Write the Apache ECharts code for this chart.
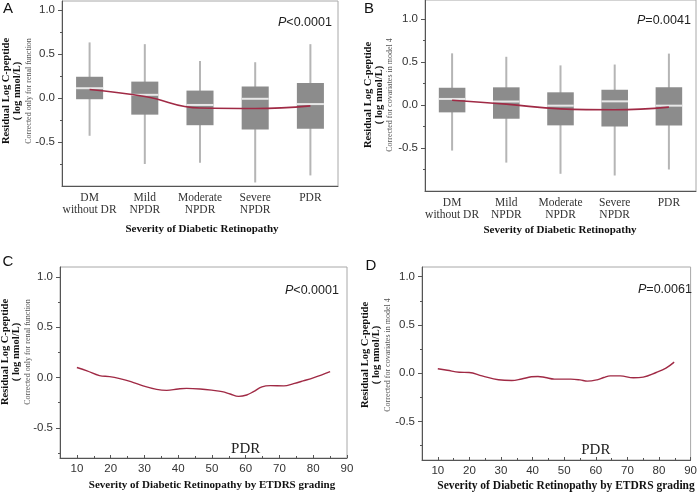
<!DOCTYPE html>
<html>
<head>
<meta charset="utf-8">
<script src="https://cdn.jsdelivr.net/npm/echarts@6/dist/echarts.min.js"></script>
<style>
html,body{margin:0;padding:0;background:#fff;}
#chart{width:700px;height:492px;}
</style>
</head>
<body>
<div id="chart"></div>
<script>
// ---------- data ----------
const categories = ['DM\nwithout DR', 'Mild\nNPDR', 'Moderate\nNPDR', 'Severe\nNPDR', 'PDR'];

// Panel A (corrected only for renal function)
const aLow  = [-0.43, -0.75, -0.735, -0.96, -0.88];
const aQ1   = [-0.015, -0.19, -0.31, -0.36, -0.35];
const aMed  = [0.11, 0.035, -0.08, -0.01, -0.07];
const aQ3   = [0.24, 0.185, 0.083, 0.13, 0.17];
const aHigh = [0.63, 0.61, 0.42, 0.405, 0.61];
const aTrend = [0.095, 0.015, -0.115, -0.12, -0.09];

// Panel B (corrected for covariates in model 4)
const bLow  = [-0.53, -0.67, -0.80, -0.82, -0.75];
const bQ1   = [-0.086, -0.16, -0.237, -0.249, -0.24];
const bMed  = [0.07, 0.04, -0.008, 0.042, -0.008];
const bQ3   = [0.20, 0.205, 0.147, 0.178, 0.205];
const bHigh = [0.60, 0.56, 0.46, 0.47, 0.597];
const bTrend = [0.055, 0.01, -0.045, -0.055, -0.025];

// Panel C (ETDRS grading, renal function only)
const cX = [10, 13, 16.7, 19.7, 22.7, 26, 29.6, 33.6, 36.6, 40, 42.5, 46.5, 50.4, 53, 55.4, 57.9, 60.3, 62.3, 64.8, 67.3, 71.3, 74.2, 77, 80.2, 85];
const cY = [0.10, 0.067, 0.02, 0.01, -0.01, -0.04, -0.083, -0.117, -0.127, -0.113, -0.107, -0.113, -0.127, -0.14, -0.163, -0.187, -0.173, -0.14, -0.093, -0.08, -0.083, -0.06, -0.033, 0.0, 0.06];

// Panel D (ETDRS grading, model 4)
const dX = [10, 13, 16.8, 19.9, 24, 29.2, 33.4, 36.5, 39.6, 41.7, 44, 46.9, 52.1, 55, 57.3, 60.4, 62.5, 64.6, 67.7, 71.9, 75, 79.1, 82.2, 84.8];
const dY = [0.045, 0.03, 0.01, 0.007, -0.028, -0.069, -0.076, -0.06, -0.038, -0.034, -0.045, -0.062, -0.062, -0.07, -0.083, -0.069, -0.045, -0.028, -0.028, -0.048, -0.041, 0.007, 0.052, 0.114];

// ticks
const yTicks = [-0.5, 0, 0.5, 1.0];
const yMinorTicks = [-0.75, -0.25, 0.25, 0.75];
const xTicks = [10, 20, 30, 40, 50, 60, 70, 80, 90];
const xMinorTicks = [15, 25, 35, 45, 55, 65, 75, 85];

const pTexts = ['<0.0001', '=0.0041', '<0.0001', '=0.0061'];
const pdrLabel = {x: 60, yC: -0.71, yD: -0.80};

// ---------- styling ----------
const SERIF = '"Liberation Serif", "Times New Roman", serif';
const SANS = '"Liberation Sans", Arial, sans-serif';
const AXIS_COLOR = '#555';
const FRAME_COLOR = '#a8a8a8';
const LINE_COLOR = '#a02a45';

const chart = echarts.init(document.getElementById('chart'), null, {renderer: 'canvas'});

function boxData(lo, q1, med, q3, hi) {
  return lo.map((v, i) => [i, lo[i], q1[i], med[i], q3[i], hi[i]]);
}

function renderBox(params, api) {
  const i = api.value(0);
  const lo = api.coord([i, api.value(1)]);
  const q1 = api.coord([i, api.value(2)]);
  const md = api.coord([i, api.value(3)]);
  const q3 = api.coord([i, api.value(4)]);
  const hi = api.coord([i, api.value(5)]);
  const bw = api.size([1, 0])[0] * 0.49;
  const cx = md[0];
  return {
    type: 'group',
    children: [
      {type: 'line', shape: {x1: cx, y1: hi[1], x2: cx, y2: lo[1]}, style: {stroke: '#b5b5b5', lineWidth: 2}},
      {type: 'rect', shape: {x: cx - bw / 2, y: q3[1], width: bw, height: q1[1] - q3[1]}, style: {fill: '#8c8c8c'}},
      {type: 'line', shape: {x1: cx - bw / 2, y1: md[1], x2: cx + bw / 2, y2: md[1]}, style: {stroke: '#e8e8e8', lineWidth: 2}}
    ]
  };
}

const grids = [
  {left: 62, top: 1, width: 276, height: 185},
  {left: 425, top: 0, width: 271, height: 191},
  {left: 60, top: 267, width: 287, height: 191},
  {left: 422, top: 267, width: 273, height: 193}
];
const yRanges = [[-1.0, 1.1], [-1.0, 1.22], [-0.8, 1.1], [-0.9, 1.1]];

const gridOpts = grids.map(g => Object.assign({show: true, borderColor: FRAME_COLOR, borderWidth: 1, backgroundColor: 'transparent'}, g));

const xAxes = [];
const yAxes = [];
// category x axes for A and B
[0, 1].forEach(gi => {
  xAxes.push({
    type: 'category', gridIndex: gi, data: categories, boundaryGap: true, position: 'bottom',
    axisLine: {onZero: false, lineStyle: {color: AXIS_COLOR, width: 1}},
    axisTick: {show: false},
    axisLabel: {fontFamily: SERIF, fontSize: 11.5, color: '#333', lineHeight: 12, margin: 6, interval: 0}
  });
});
// value x axes for C and D
[2, 3].forEach(gi => {
  xAxes.push({
    type: 'value', gridIndex: gi, min: 5, max: 90, position: 'bottom',
    axisLine: {onZero: false, lineStyle: {color: AXIS_COLOR, width: 1}},
    axisTick: {show: true, inside: true, length: 3, lineStyle: {color: AXIS_COLOR}, customValues: xTicks},
    axisLabel: {fontFamily: SANS, fontSize: 11.5, color: '#333', margin: 5, customValues: xTicks, showMinLabel: true, showMaxLabel: true},
    splitLine: {show: false}
  });
  xAxes.push({
    type: 'value', gridIndex: gi, min: 5, max: 90, position: 'bottom',
    axisLine: {show: false, onZero: false},
    axisTick: {show: true, inside: true, length: 2, lineStyle: {color: AXIS_COLOR}, customValues: xMinorTicks},
    axisLabel: {show: false},
    splitLine: {show: false}
  });
});
// y axes
[0, 1, 2, 3].forEach(gi => {
  yAxes.push({
    type: 'value', gridIndex: gi, min: yRanges[gi][0], max: yRanges[gi][1], position: 'left',
    axisLine: {show: true, onZero: false, lineStyle: {color: AXIS_COLOR, width: 1}},
    axisTick: {show: true, length: 4, lineStyle: {color: AXIS_COLOR}, customValues: yTicks},
    axisLabel: {fontFamily: SANS, fontSize: 11.5, color: '#333', margin: 7, customValues: yTicks,
      formatter: v => Number(v).toFixed(1)},
    splitLine: {show: false}
  });
  yAxes.push({
    type: 'value', gridIndex: gi, min: yRanges[gi][0], max: yRanges[gi][1], position: 'left',
    axisLine: {show: false, onZero: false},
    axisTick: {show: true, length: 2, lineStyle: {color: AXIS_COLOR}, customValues: yMinorTicks},
    axisLabel: {show: false},
    splitLine: {show: false}
  });
});
// x axis indices: A=0, B=1, C=2 (minor 3), D=4 (minor 5)
// y axis indices: A=0, B=2, C=4, D=6

const series = [
  {type: 'custom', xAxisIndex: 0, yAxisIndex: 0, renderItem: renderBox,
   data: boxData(aLow, aQ1, aMed, aQ3, aHigh), encode: {x: 0, y: [1, 2, 3, 4, 5]}, z: 2},
  {type: 'line', xAxisIndex: 0, yAxisIndex: 0, data: aTrend, smooth: 0.45, symbol: 'none',
   lineStyle: {color: LINE_COLOR, width: 1.6}, z: 5},
  {type: 'custom', xAxisIndex: 1, yAxisIndex: 2, renderItem: renderBox,
   data: boxData(bLow, bQ1, bMed, bQ3, bHigh), encode: {x: 0, y: [1, 2, 3, 4, 5]}, z: 2},
  {type: 'line', xAxisIndex: 1, yAxisIndex: 2, data: bTrend, smooth: 0.45, symbol: 'none',
   lineStyle: {color: LINE_COLOR, width: 1.6}, z: 5},
  {type: 'line', xAxisIndex: 2, yAxisIndex: 4, data: cX.map((x, i) => [x, cY[i]]), smooth: 0.4, symbol: 'none',
   lineStyle: {color: LINE_COLOR, width: 1.4}, z: 5,
   markPoint: {symbol: 'circle', symbolSize: 1, itemStyle: {color: 'rgba(0,0,0,0)'},
     label: {show: true, position: 'inside', formatter: 'PDR', fontFamily: SERIF, fontSize: 15, color: '#222'},
     data: [{coord: [pdrLabel.x, pdrLabel.yC]}]}},
  {type: 'line', xAxisIndex: 4, yAxisIndex: 6, data: dX.map((x, i) => [x, dY[i]]), smooth: 0.4, symbol: 'none',
   lineStyle: {color: LINE_COLOR, width: 1.4}, z: 5,
   markPoint: {symbol: 'circle', symbolSize: 1, itemStyle: {color: 'rgba(0,0,0,0)'},
     label: {show: true, position: 'inside', formatter: 'PDR', fontFamily: SERIF, fontSize: 15, color: '#222'},
     data: [{coord: [pdrLabel.x, pdrLabel.yD]}]}}
];

function txt(x, y, text, font, fill, rot, align) {
  return {type: 'text', x: x, y: y, rotation: rot || 0, z: 10,
    style: {text: text, font: font, fill: fill || '#222', textAlign: align || 'center', textVerticalAlign: 'middle'}};
}
function ptxt(x, y, t) {
  return {type: 'text', x: x, y: y, z: 10,
    style: {text: '{i|P}{n|' + t + '}', textAlign: 'left', textVerticalAlign: 'middle',
      rich: {i: {fontStyle: 'italic', fontFamily: SANS, fontSize: 12.5, fill: '#222'},
             n: {fontFamily: SANS, fontSize: 12.5, fill: '#222'}}}};
}
const R = Math.PI / 2;
const boldT = 'bold 10.5px ' + SERIF;
const smallT = '8px ' + SERIF;
const graphic = [
  txt(8, 9, 'A', '15px ' + SANS, '#111'),
  txt(369, 9, 'B', '15px ' + SANS, '#111'),
  txt(8, 262, 'C', '15px ' + SANS, '#111'),
  txt(371, 266, 'D', '15px ' + SANS, '#111'),
  ptxt(278, 23, pTexts[0]),
  ptxt(637, 21, pTexts[1]),
  ptxt(285, 291, pTexts[2]),
  ptxt(638, 290, pTexts[3]),
  // y titles
  txt(6, 91, 'Residual Log C-peptide', boldT, '#111', R),
  txt(17, 91, '( log nmol/L)', boldT, '#111', R),
  txt(29, 91, 'Corrected only for renal function', smallT, '#555', R),
  txt(368, 95, 'Residual Log C-peptide', boldT, '#111', R),
  txt(379, 95, '( log nmol/L)', boldT, '#111', R),
  txt(390, 95, 'Corrected for covariates in model 4', smallT, '#555', R),
  txt(5, 352, 'Residual Log C-peptide', boldT, '#111', R),
  txt(16, 352, '( log nmol/L)', boldT, '#111', R),
  txt(28, 352, 'Corrected only for renal function', smallT, '#555', R),
  txt(365, 355, 'Residual Log C-peptide', boldT, '#111', R),
  txt(376, 355, '( log nmol/L)', boldT, '#111', R),
  txt(388, 355, 'Corrected for covariates in model 4', smallT, '#555', R),
  // x titles
  txt(202, 229, 'Severity of Diabetic Retinopathy', 'bold 11px ' + SERIF, '#111'),
  txt(560, 230, 'Severity of Diabetic Retinopathy', 'bold 11px ' + SERIF, '#111'),
  txt(212, 485, 'Severity of Diabetic Retinopathy by ETDRS grading', 'bold 11px ' + SERIF, '#111'),
  txt(566, 486, 'Severity of Diabetic Retinopathy by ETDRS grading', 'bold 11.5px ' + SERIF, '#111')
];

chart.setOption({
  animation: false,
  backgroundColor: '#fff',
  grid: gridOpts,
  xAxis: xAxes,
  yAxis: yAxes,
  series: series,
  graphic: graphic
});
</script>
</body>
</html>
